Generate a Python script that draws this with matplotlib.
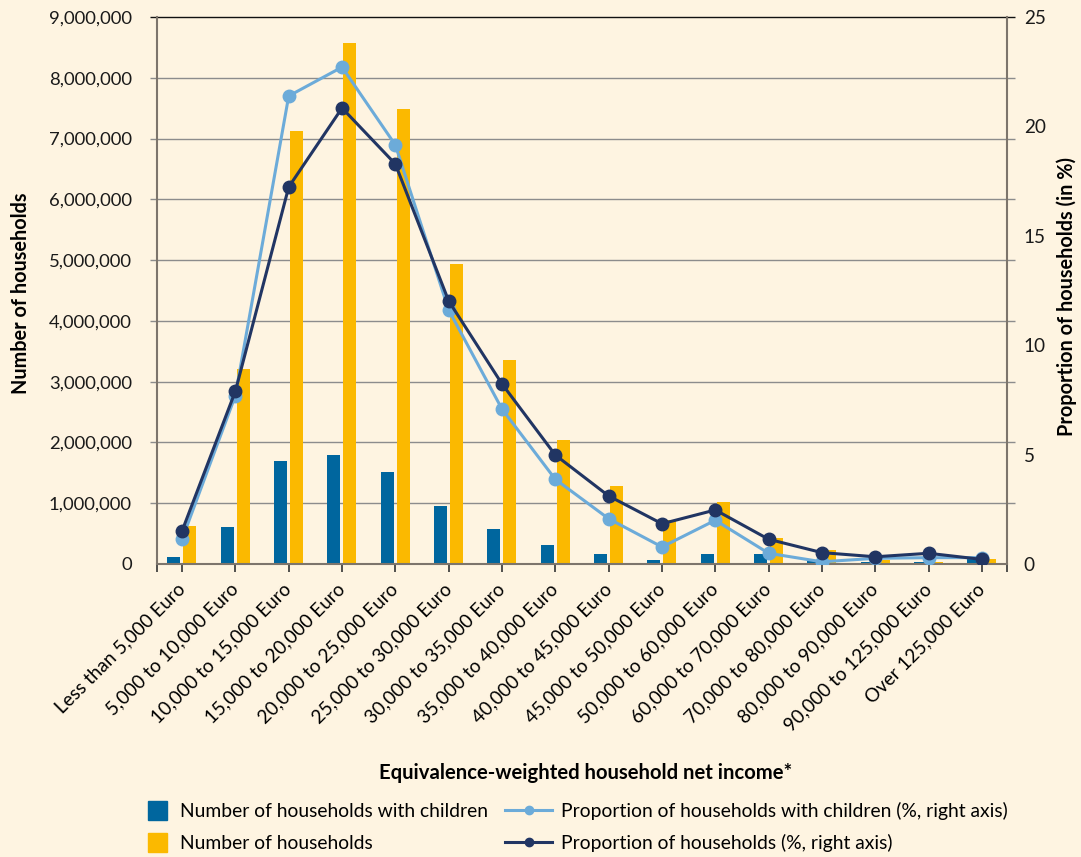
import matplotlib
matplotlib.use("Agg")
import matplotlib.pyplot as plt
import numpy as np
from matplotlib.transforms import blended_transform_factory
from matplotlib.patches import Patch, Rectangle
from matplotlib.lines import Line2D
from matplotlib.legend_handler import HandlerPatch

plt.rcParams['font.family'] = ['Lato', 'DejaVu Sans']

categories = [
    "Less than 5,000 Euro", "5,000 to 10,000 Euro", "10,000 to 15,000 Euro",
    "15,000 to 20,000 Euro", "20,000 to 25,000 Euro", "25,000 to 30,000 Euro",
    "30,000 to 35,000 Euro", "35,000 to 40,000 Euro", "40,000 to 45,000 Euro",
    "45,000 to 50,000 Euro", "50,000 to 60,000 Euro", "60,000 to 70,000 Euro",
    "70,000 to 80,000 Euro", "80,000 to 90,000 Euro", "90,000 to 125,000 Euro",
    "Over 125,000 Euro",
]

households_with_children = [115000, 610000, 1690000, 1790000, 1510000, 950000,
                            575000, 310000, 160000, 60000, 160000, 160000,
                            60000, 40000, 30000, 80000]
households_all = [625000, 3210000, 7130000, 8570000, 7490000, 4940000,
                  3360000, 2040000, 1280000, 720000, 1020000, 430000,
                  230000, 60000, 40000, 80000]

share_with_children = [1.13, 7.7, 21.39, 22.71, 19.15, 11.61, 7.08, 3.87, 2.07,
                       0.78, 2.0, 0.49, 0.1, 0.26, 0.29, 0.29]
share_all = [1.51, 7.9, 17.23, 20.84, 18.28, 12.02, 8.23, 4.98, 3.11,
             1.84, 2.47, 1.13, 0.52, 0.33, 0.49, 0.21]

left_ticks = list(range(0, 9000001, 1000000))
right_ticks = [0, 5, 10, 15, 20, 25]

BG = "#FEF4E1"
BLUE = "#00669E"
YELLOW = "#FBB900"
LIGHT = "#6CABD9"
NAVY = "#213563"
SPINE = "#7d756c"
GRID = "#8c8c8c"

W, H = 1081, 857
fig = plt.figure(figsize=(W / 100, H / 100), dpi=100, facecolor=BG)
ax = fig.add_axes([157 / W, 1 - 564 / H, 850 / W, (564 - 17) / H])
ax.set_facecolor(BG)

x = np.arange(len(categories))
bw = 0.245
ax.bar(x - 0.152, households_with_children, width=bw, color=BLUE, zorder=2)
ax.bar(x + 0.148, households_all, width=bw, color=YELLOW, zorder=2)

ax.set_xlim(-0.47, len(categories) - 1 + 0.47)
ax.set_ylim(0, 9000000)
ax.set_yticks(left_ticks)
ax.set_yticklabels([f"{v:,}" for v in left_ticks])

# horizontal rules, running a little past both axes
tr = blended_transform_factory(ax.transAxes, ax.transData)
ax.hlines(left_ticks[1:-1], -0.0082, 1.0094, transform=tr, colors=GRID,
          linewidth=1.0, clip_on=False, zorder=1)
ax.hlines([left_ticks[-1]], -0.0082, 1.0094, transform=tr, colors="#111111",
          linewidth=1.0, clip_on=False, zorder=1)

ax.spines["top"].set_visible(False)
for side in ("left", "bottom", "right"):
    ax.spines[side].set_color(SPINE)
    ax.spines[side].set_linewidth(1.5)

ax.set_xticks(x)
ax.set_xticks([-0.47, len(categories) - 1 + 0.47], minor=True)
ax.set_xticklabels(categories, rotation=45, ha="right", va="center",
                   rotation_mode="anchor", fontsize=13.6)
ax.tick_params(axis="x", which="both", direction="out", length=6, width=1.2,
               color="#333333", pad=10)
ax.tick_params(axis="y", direction="out", length=0, labelsize=13.3, pad=18,
               labelcolor="#1a1a1a")

ax2 = ax.twinx()
ax2.set_ylim(0, 25)
ax2.set_yticks(right_ticks)
ax2.tick_params(axis="y", length=0, labelsize=13.6, pad=12, labelcolor="#1a1a1a")
for side in ("top", "left", "bottom", "right"):
    ax2.spines[side].set_visible(False)

ax2.plot(x, share_with_children, color=LIGHT, linewidth=2.2, marker="o",
         markersize=9, zorder=3)
ax2.plot(x, share_all, color=NAVY, linewidth=2.2, marker="o",
         markersize=9, zorder=4)

fig.text(21 / W, 1 - 293 / H, "Number of households", rotation=90,
         ha="center", va="center", fontsize=14.3, fontweight="bold")
fig.text(1067 / W, 1 - 296 / H, "Proportion of households (in %)", rotation=90,
         ha="center", va="center", fontsize=14.3, fontweight="bold")
fig.text(586 / W, 1 - 773 / H, "Equivalence-weighted household net income*",
         ha="center", va="center", fontsize=14.6, fontweight="bold")


def square(legend, orig_handle, xdescent, ydescent, width, height, fontsize):
    s = 19 * 72 / 100
    return Rectangle((-xdescent, -ydescent + height / 2 - s / 2), s, s)


LEG_FS = 13.9
bar_handles = [Patch(color=BLUE), Patch(color=YELLOW)]
leg1 = fig.legend(bar_handles,
                  ["Number of households with children", "Number of households"],
                  loc="upper left", bbox_to_anchor=(148 / W, 1 - 802 / H),
                  frameon=False, fontsize=LEG_FS, borderpad=0, borderaxespad=0,
                  handlelength=1.0, handleheight=1.0, handletextpad=0.66,
                  labelspacing=0.72,
                  handler_map={Patch: HandlerPatch(patch_func=square)})

line_handles = [
    Line2D([], [], color=LIGHT, linewidth=2.2, marker="o", markersize=6),
    Line2D([], [], color=NAVY, linewidth=2.2, marker="o", markersize=6),
]
leg2 = fig.legend(line_handles,
                  ["Proportion of households with children (%, right axis)",
                   "Proportion of households (%, right axis)"],
                  loc="upper left", bbox_to_anchor=(505 / W, 1 - 802 / H),
                  frameon=False, fontsize=LEG_FS, borderpad=0, borderaxespad=0,
                  handlelength=2.45, handletextpad=0.44, labelspacing=0.72)

fig.savefig("out.png", dpi=100, facecolor=BG)
